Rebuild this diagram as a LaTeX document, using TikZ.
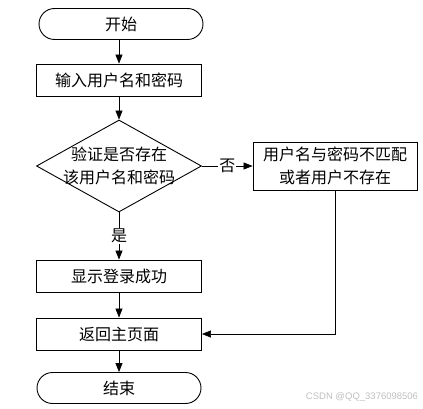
\documentclass[tikz,border=0pt]{standalone}
\usepackage{fontspec}
\newfontfamily\cjk{Noto Sans CJK SC}
\newfontfamily\wm{Liberation Sans}
\usetikzlibrary{shapes.geometric,shapes.misc,arrows.meta}
\begin{document}
\begin{tikzpicture}[x=1pt,y=-1pt,
  every node/.style={font=\cjk\fontsize{16}{22.5}\selectfont},
  proc/.style={draw,line width=0.9pt,minimum width=165pt,minimum height=32pt,inner sep=0pt},
  term/.style={draw,line width=0.9pt,rounded rectangle,minimum width=164pt,minimum height=31pt,inner sep=0pt},
  arr/.style={line width=0.7pt,-{Triangle[length=9pt,width=7pt]}},
  lab/.style={fill=white,inner sep=1pt}]
\useasboundingbox (0,0) rectangle (423,409);
\node[term] (start) at (121,24) {开始};
\node[proc] (in) at (119,80) {输入用户名和密码};
\node[draw,line width=0.9pt,diamond,minimum width=165pt,minimum height=92pt,inner sep=0pt] (chk) at (119,166) {};
\node[align=center] (chkt) at (chk) {验证是否存在\\该用户名和密码};
\node[proc,minimum width=164pt,minimum height=48pt,align=center] (err) at (335,166) {用户名与密码不匹配\\或者用户不存在};
\node[proc] (ok) at (119,276) {显示登录成功};
\node[proc] (ret) at (119,334) {返回主页面};
\node[term] (end) at (119,388) {结束};
\node[font=\wm\fontsize{9.5}{11}\selectfont,text=black!25] (wmk) at (362,397) {CSDN @QQ\_3376098506};
\draw[arr] (in.north |- start.south) -- (in.north);
\draw[arr] (in) -- (chk);
\draw[arr] (chk) -- node[lab] {否} (err);
\draw[arr] (chk) -- node[lab] {是} (ok);
\draw[arr] (ok) -- (ret);
\draw[arr] (ret) -- (end);
\draw[arr] (err.south) |- (ret.east);
\end{tikzpicture}
\end{document}
